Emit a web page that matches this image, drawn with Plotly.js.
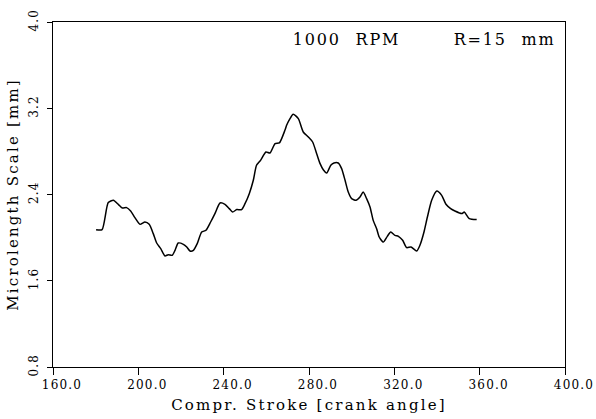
<!DOCTYPE html>
<html>
<head>
<meta charset="utf-8">
<script src="https://cdn.plot.ly/plotly-3.0.1.min.js"></script>
<style>
  html, body { margin: 0; padding: 0; background: #fff; }
  #chart { width: 596px; height: 419px; }
  .main-svg text { letter-spacing: 1.2px; }
  .main-svg .xtitle, .main-svg .ytitle { letter-spacing: 2.2px; }
  .main-svg .annotation-text { letter-spacing: 1.8px; word-spacing: 8px; }
</style>
</head>
<body>
<div id="chart"></div>
<script>
// Crank angle positions along the compression stroke [deg]
const crankAngle = [
  180.2, 183.0, 185.9, 188.3, 190.6, 192.5, 194.5, 196.4, 198.4, 200.8,
  203.1, 205.1, 207.0, 208.6, 210.5, 212.5, 214.0, 215.9, 217.2, 218.7,
  221.1, 222.7, 224.2, 225.8, 227.6, 229.7, 231.7, 233.9, 235.9, 238.3,
  240.6, 242.6, 244.2, 246.1, 248.4, 250.0, 252.0, 253.9, 255.4, 257.3,
  259.8, 261.7, 264.1, 266.1, 268.7, 269.5, 271.1, 272.6, 275.0, 277.3,
  279.7, 281.7, 283.6, 285.2, 286.7, 288.3, 290.2, 291.7, 293.7, 295.3,
  296.9, 298.4, 300.0, 302.0, 303.9, 305.4, 307.0, 308.6, 310.1, 311.7,
  312.9, 314.8, 316.7, 318.3, 320.3, 321.9, 323.9, 325.8, 327.8, 330.5,
  332.0, 333.9, 335.5, 337.5, 339.9, 342.2, 344.2, 346.4, 348.4, 351.6,
  352.8, 355.1, 358.6
];

// Integral microlength scale [mm]
const microScale = [
  2.074, 2.074, 2.325, 2.346, 2.309, 2.275, 2.278, 2.247, 2.185, 2.123,
  2.145, 2.123, 2.037, 1.950, 1.898, 1.830, 1.842, 1.836, 1.882, 1.950,
  1.938, 1.913, 1.876, 1.882, 1.944, 2.052, 2.068, 2.145, 2.223, 2.321,
  2.309, 2.269, 2.237, 2.260, 2.260, 2.315, 2.408, 2.532, 2.671, 2.717,
  2.794, 2.785, 2.872, 2.878, 2.995, 3.042, 3.104, 3.144, 3.104, 2.980,
  2.933, 2.887, 2.779, 2.686, 2.630, 2.600, 2.671, 2.692, 2.692, 2.640,
  2.532, 2.423, 2.362, 2.346, 2.377, 2.423, 2.362, 2.284, 2.160, 2.083,
  2.006, 1.959, 2.012, 2.052, 2.021, 2.012, 1.975, 1.907, 1.913, 1.876,
  1.929, 2.052, 2.191, 2.346, 2.432, 2.392, 2.309, 2.269, 2.247, 2.223,
  2.237, 2.176, 2.167
];

const xTickVals = [160, 200, 240, 280, 320, 360, 400];
const yTickVals = [0.8, 1.6, 2.4, 3.2, 4.0];

const serif = "DejaVu Serif";

const trace = {
  x: crankAngle,
  y: microScale,
  type: "scatter",
  mode: "lines",
  line: { color: "#000", width: 1.5, shape: "spline", smoothing: 0.6 },
  hoverinfo: "skip"
};

const layout = {
  width: 596,
  height: 419,
  margin: { l: 53, r: 31, t: 22, b: 52 },
  paper_bgcolor: "#fff",
  plot_bgcolor: "#fff",
  showlegend: false,
  font: { family: serif, color: "#000" },
  xaxis: {
    range: [160, 400],
    tickvals: xTickVals,
    tickformat: ".1f",
    ticks: "outside",
    ticklen: 7,
    tickwidth: 1,
    tickcolor: "#000",
    showgrid: false,
    zeroline: false,
    showline: true,
    linecolor: "#000",
    linewidth: 1,
    mirror: true,
    ticklabelshift: 9,
    tickfont: { family: serif, size: 12, color: "#000" },
    title: {
      text: "Compr. Stroke [crank angle]",
      font: { family: serif, size: 15, color: "#000" },
      standoff: 8
    }
  },
  yaxis: {
    range: [0.8, 4.0],
    tickvals: yTickVals,
    tickformat: ".1f",
    tickangle: -90,
    ticks: "outside",
    ticklen: 5,
    tickwidth: 1,
    tickcolor: "#000",
    showgrid: false,
    zeroline: false,
    showline: true,
    linecolor: "#000",
    linewidth: 1,
    mirror: true,
    ticklabelstandoff: 4,
    tickfont: { family: serif, size: 12, color: "#000" },
    title: {
      text: "Microlength Scale [mm]",
      font: { family: serif, size: 15, color: "#000" },
      standoff: 4
    }
  },
  annotations: [
    {
      text: "1000 RPM",
      xref: "paper", yref: "paper",
      x: 0.486, y: 0.948,
      xanchor: "left", yanchor: "middle",
      showarrow: false,
      font: { family: serif, size: 16, color: "#000" }
    },
    {
      text: "R=15 mm",
      xref: "paper", yref: "paper",
      x: 0.965, y: 0.948,
      xanchor: "right", yanchor: "middle",
      showarrow: false,
      font: { family: serif, size: 16, color: "#000" }
    }
  ]
};

Plotly.newPlot("chart", [trace], layout, { displayModeBar: false, staticPlot: true });
</script>
</body>
</html>
